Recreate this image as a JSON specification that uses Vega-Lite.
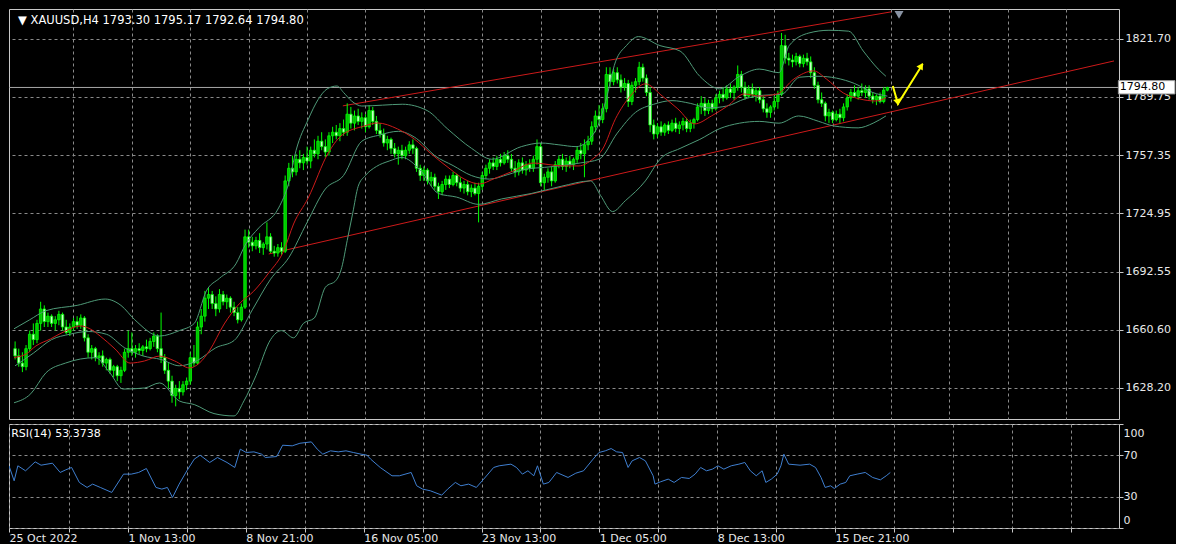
{
"$schema": "https://vega.github.io/schema/vega-lite/v6.json",
"background": "#000000",
"padding": {"left": 8, "top": 8, "right": 0, "bottom": 0},
"spacing": 3,
"config": {
  "font": "DejaVu Sans",
  "view": {"stroke": "#c8c8c8", "strokeWidth": 1},
  "axis": {"labelFont": "DejaVu Sans", "labelFontSize": 11, "labelColor": "#e8e8e8", "gridColor": "#8a8a8a", "gridDash": [3, 3], "gridWidth": 1, "gridOpacity": 1, "tickColor": "#c8c8c8", "tickSize": 4, "domain": false, "labelOverlap": false, "labelBound": false}
},
"datasets": {
  "candles": [
    {"i":1,"o":1650,"h":1654,"l":1644,"c":1646},{"i":2,"o":1646,"h":1650,"l":1640,"c":1642},{"i":3,"o":1642,"h":1648,"l":1637,"c":1640},{"i":4,"o":1640,"h":1652,"l":1638,"c":1650},{"i":5,"o":1650,"h":1660,"l":1648,"c":1658},
    {"i":6,"o":1658,"h":1664,"l":1652,"c":1655},{"i":7,"o":1655,"h":1666,"l":1653,"c":1664},{"i":8,"o":1664,"h":1676,"l":1660,"c":1672},{"i":9,"o":1672,"h":1674,"l":1662,"c":1665},{"i":10,"o":1665,"h":1670,"l":1662,"c":1668},
    {"i":11,"o":1668,"h":1669,"l":1662,"c":1664},{"i":12,"o":1664,"h":1668,"l":1660,"c":1666},{"i":13,"o":1666,"h":1671,"l":1663,"c":1669},{"i":14,"o":1669,"h":1670,"l":1660,"c":1662},{"i":15,"o":1662,"h":1666,"l":1658,"c":1659},
    {"i":16,"o":1659,"h":1664,"l":1657,"c":1662},{"i":17,"o":1662,"h":1667,"l":1660,"c":1665},{"i":18,"o":1665,"h":1668,"l":1661,"c":1663},{"i":19,"o":1663,"h":1669,"l":1661,"c":1667},{"i":20,"o":1667,"h":1668,"l":1654,"c":1656},
    {"i":21,"o":1656,"h":1658,"l":1645,"c":1648},{"i":22,"o":1648,"h":1652,"l":1644,"c":1650},{"i":23,"o":1650,"h":1651,"l":1643,"c":1645},{"i":24,"o":1645,"h":1648,"l":1641,"c":1646},{"i":25,"o":1646,"h":1649,"l":1640,"c":1642},
    {"i":26,"o":1642,"h":1645,"l":1638,"c":1644},{"i":27,"o":1644,"h":1645,"l":1636,"c":1638},{"i":28,"o":1638,"h":1641,"l":1634,"c":1640},{"i":29,"o":1640,"h":1641,"l":1632,"c":1635},{"i":30,"o":1635,"h":1640,"l":1631,"c":1638},
    {"i":31,"o":1638,"h":1650,"l":1637,"c":1648},{"i":32,"o":1648,"h":1660,"l":1645,"c":1650},{"i":33,"o":1650,"h":1659,"l":1646,"c":1648},{"i":34,"o":1648,"h":1652,"l":1645,"c":1650},{"i":35,"o":1650,"h":1653,"l":1647,"c":1649},
    {"i":36,"o":1649,"h":1652,"l":1646,"c":1651},{"i":37,"o":1651,"h":1655,"l":1648,"c":1650},{"i":38,"o":1650,"h":1656,"l":1649,"c":1654},{"i":39,"o":1654,"h":1659,"l":1651,"c":1657},{"i":40,"o":1657,"h":1658,"l":1648,"c":1650},
    {"i":41,"o":1650,"h":1670,"l":1642,"c":1645},{"i":42,"o":1645,"h":1647,"l":1636,"c":1638},{"i":43,"o":1638,"h":1642,"l":1628,"c":1632},{"i":44,"o":1632,"h":1635,"l":1620,"c":1624},{"i":45,"o":1624,"h":1630,"l":1618,"c":1628},
    {"i":46,"o":1628,"h":1632,"l":1622,"c":1626},{"i":47,"o":1626,"h":1632,"l":1624,"c":1630},{"i":48,"o":1630,"h":1634,"l":1627,"c":1632},{"i":49,"o":1632,"h":1648,"l":1630,"c":1645},{"i":50,"o":1645,"h":1652,"l":1640,"c":1642},
    {"i":51,"o":1642,"h":1665,"l":1641,"c":1662},{"i":52,"o":1662,"h":1672,"l":1658,"c":1668},{"i":53,"o":1668,"h":1682,"l":1665,"c":1678},{"i":54,"o":1678,"h":1684,"l":1672,"c":1680},{"i":55,"o":1680,"h":1682,"l":1672,"c":1675},
    {"i":56,"o":1675,"h":1679,"l":1668,"c":1672},{"i":57,"o":1672,"h":1683,"l":1670,"c":1680},{"i":58,"o":1680,"h":1682,"l":1674,"c":1676},{"i":59,"o":1676,"h":1680,"l":1672,"c":1678},{"i":60,"o":1678,"h":1679,"l":1670,"c":1673},
    {"i":61,"o":1673,"h":1676,"l":1668,"c":1670},{"i":62,"o":1670,"h":1673,"l":1664,"c":1666},{"i":63,"o":1666,"h":1675,"l":1665,"c":1673},{"i":64,"o":1673,"h":1716,"l":1672,"c":1712},{"i":65,"o":1712,"h":1716,"l":1706,"c":1709},
    {"i":66,"o":1709,"h":1712,"l":1704,"c":1707},{"i":67,"o":1707,"h":1712,"l":1705,"c":1710},{"i":68,"o":1710,"h":1714,"l":1703,"c":1706},{"i":69,"o":1706,"h":1709,"l":1702,"c":1708},{"i":70,"o":1708,"h":1720,"l":1705,"c":1712},
    {"i":71,"o":1712,"h":1714,"l":1703,"c":1704},{"i":72,"o":1704,"h":1707,"l":1701,"c":1703},{"i":73,"o":1703,"h":1708,"l":1701,"c":1706},{"i":74,"o":1706,"h":1709,"l":1702,"c":1704},{"i":75,"o":1704,"h":1746,"l":1703,"c":1743},
    {"i":76,"o":1743,"h":1753,"l":1740,"c":1750},{"i":77,"o":1750,"h":1757,"l":1745,"c":1748},{"i":78,"o":1748,"h":1758,"l":1746,"c":1755},{"i":79,"o":1755,"h":1760,"l":1750,"c":1753},{"i":80,"o":1753,"h":1758,"l":1749,"c":1756},
    {"i":81,"o":1756,"h":1762,"l":1752,"c":1754},{"i":82,"o":1754,"h":1762,"l":1750,"c":1760},{"i":83,"o":1760,"h":1766,"l":1756,"c":1758},{"i":84,"o":1758,"h":1768,"l":1755,"c":1765},{"i":85,"o":1765,"h":1770,"l":1760,"c":1762},
    {"i":86,"o":1762,"h":1766,"l":1756,"c":1759},{"i":87,"o":1759,"h":1770,"l":1757,"c":1768},{"i":88,"o":1768,"h":1773,"l":1764,"c":1770},{"i":89,"o":1770,"h":1774,"l":1766,"c":1768},{"i":90,"o":1768,"h":1775,"l":1765,"c":1772},
    {"i":91,"o":1772,"h":1777,"l":1768,"c":1770},{"i":92,"o":1770,"h":1786,"l":1768,"c":1780},{"i":93,"o":1780,"h":1784,"l":1772,"c":1775},{"i":94,"o":1775,"h":1782,"l":1771,"c":1779},{"i":95,"o":1779,"h":1783,"l":1774,"c":1776},
    {"i":96,"o":1776,"h":1781,"l":1772,"c":1778},{"i":97,"o":1778,"h":1780,"l":1770,"c":1773},{"i":98,"o":1773,"h":1785,"l":1772,"c":1782},{"i":99,"o":1782,"h":1784,"l":1774,"c":1776},{"i":100,"o":1776,"h":1779,"l":1769,"c":1771},
    {"i":101,"o":1771,"h":1775,"l":1767,"c":1769},{"i":102,"o":1769,"h":1772,"l":1762,"c":1764},{"i":103,"o":1764,"h":1768,"l":1760,"c":1766},{"i":104,"o":1766,"h":1767,"l":1758,"c":1761},{"i":105,"o":1761,"h":1764,"l":1756,"c":1758},
    {"i":106,"o":1758,"h":1762,"l":1752,"c":1760},{"i":107,"o":1760,"h":1763,"l":1755,"c":1757},{"i":108,"o":1757,"h":1762,"l":1755,"c":1760},{"i":109,"o":1760,"h":1765,"l":1758,"c":1763},{"i":110,"o":1763,"h":1766,"l":1758,"c":1761},
    {"i":111,"o":1761,"h":1762,"l":1748,"c":1750},{"i":112,"o":1750,"h":1752,"l":1743,"c":1746},{"i":113,"o":1746,"h":1751,"l":1743,"c":1749},{"i":114,"o":1749,"h":1750,"l":1741,"c":1743},{"i":115,"o":1743,"h":1748,"l":1740,"c":1745},
    {"i":116,"o":1745,"h":1747,"l":1738,"c":1740},{"i":117,"o":1740,"h":1742,"l":1733,"c":1737},{"i":118,"o":1737,"h":1743,"l":1735,"c":1741},{"i":119,"o":1741,"h":1746,"l":1738,"c":1744},{"i":120,"o":1744,"h":1746,"l":1739,"c":1741},
    {"i":121,"o":1741,"h":1748,"l":1740,"c":1746},{"i":122,"o":1746,"h":1747,"l":1740,"c":1742},{"i":123,"o":1742,"h":1745,"l":1737,"c":1739},{"i":124,"o":1739,"h":1743,"l":1736,"c":1741},{"i":125,"o":1741,"h":1743,"l":1735,"c":1737},
    {"i":126,"o":1737,"h":1741,"l":1734,"c":1739},{"i":127,"o":1739,"h":1742,"l":1735,"c":1736},{"i":128,"o":1736,"h":1742,"l":1720,"c":1740},{"i":129,"o":1740,"h":1748,"l":1738,"c":1746},{"i":130,"o":1746,"h":1752,"l":1744,"c":1750},
    {"i":131,"o":1750,"h":1755,"l":1747,"c":1753},{"i":132,"o":1753,"h":1756,"l":1749,"c":1751},{"i":133,"o":1751,"h":1757,"l":1749,"c":1755},{"i":134,"o":1755,"h":1758,"l":1751,"c":1753},{"i":135,"o":1753,"h":1759,"l":1752,"c":1757},
    {"i":136,"o":1757,"h":1760,"l":1753,"c":1755},{"i":137,"o":1755,"h":1758,"l":1748,"c":1750},{"i":138,"o":1750,"h":1754,"l":1745,"c":1748},{"i":139,"o":1748,"h":1755,"l":1746,"c":1753},{"i":140,"o":1753,"h":1756,"l":1747,"c":1749},
    {"i":141,"o":1749,"h":1754,"l":1746,"c":1752},{"i":142,"o":1752,"h":1755,"l":1748,"c":1750},{"i":143,"o":1750,"h":1757,"l":1748,"c":1755},{"i":144,"o":1755,"h":1766,"l":1752,"c":1762},{"i":145,"o":1762,"h":1764,"l":1740,"c":1742},
    {"i":146,"o":1742,"h":1747,"l":1738,"c":1745},{"i":147,"o":1745,"h":1750,"l":1742,"c":1748},{"i":148,"o":1748,"h":1751,"l":1740,"c":1743},{"i":149,"o":1743,"h":1754,"l":1742,"c":1752},{"i":150,"o":1752,"h":1757,"l":1750,"c":1755},
    {"i":151,"o":1755,"h":1758,"l":1749,"c":1751},{"i":152,"o":1751,"h":1756,"l":1748,"c":1754},{"i":153,"o":1754,"h":1757,"l":1750,"c":1752},{"i":154,"o":1752,"h":1756,"l":1749,"c":1755},{"i":155,"o":1755,"h":1762,"l":1753,"c":1760},
    {"i":156,"o":1760,"h":1764,"l":1755,"c":1758},{"i":157,"o":1758,"h":1766,"l":1745,"c":1763},{"i":158,"o":1763,"h":1768,"l":1760,"c":1765},{"i":159,"o":1765,"h":1776,"l":1763,"c":1773},{"i":160,"o":1773,"h":1782,"l":1770,"c":1779},
    {"i":161,"o":1779,"h":1785,"l":1774,"c":1777},{"i":162,"o":1777,"h":1786,"l":1775,"c":1783},{"i":163,"o":1783,"h":1806,"l":1781,"c":1802},{"i":164,"o":1802,"h":1806,"l":1795,"c":1798},{"i":165,"o":1798,"h":1805,"l":1796,"c":1803},
    {"i":166,"o":1803,"h":1806,"l":1797,"c":1799},{"i":167,"o":1799,"h":1802,"l":1792,"c":1795},{"i":168,"o":1795,"h":1800,"l":1793,"c":1797},{"i":169,"o":1797,"h":1799,"l":1784,"c":1787},{"i":170,"o":1787,"h":1798,"l":1785,"c":1796},
    {"i":171,"o":1796,"h":1800,"l":1792,"c":1798},{"i":172,"o":1798,"h":1809,"l":1796,"c":1806},{"i":173,"o":1806,"h":1808,"l":1798,"c":1800},{"i":174,"o":1800,"h":1802,"l":1790,"c":1792},{"i":175,"o":1792,"h":1795,"l":1770,"c":1774},
    {"i":176,"o":1774,"h":1777,"l":1766,"c":1769},{"i":177,"o":1769,"h":1775,"l":1767,"c":1773},{"i":178,"o":1773,"h":1776,"l":1768,"c":1770},{"i":179,"o":1770,"h":1775,"l":1768,"c":1774},{"i":180,"o":1774,"h":1776,"l":1769,"c":1771},
    {"i":181,"o":1771,"h":1777,"l":1770,"c":1775},{"i":182,"o":1775,"h":1778,"l":1770,"c":1772},{"i":183,"o":1772,"h":1776,"l":1769,"c":1774},{"i":184,"o":1774,"h":1778,"l":1771,"c":1776},{"i":185,"o":1776,"h":1778,"l":1770,"c":1772},
    {"i":186,"o":1772,"h":1777,"l":1770,"c":1775},{"i":187,"o":1775,"h":1778,"l":1772,"c":1777},{"i":188,"o":1777,"h":1786,"l":1776,"c":1784},{"i":189,"o":1784,"h":1790,"l":1780,"c":1786},{"i":190,"o":1786,"h":1789,"l":1779,"c":1782},
    {"i":191,"o":1782,"h":1788,"l":1780,"c":1786},{"i":192,"o":1786,"h":1788,"l":1781,"c":1783},{"i":193,"o":1783,"h":1791,"l":1782,"c":1789},{"i":194,"o":1789,"h":1793,"l":1786,"c":1791},{"i":195,"o":1791,"h":1795,"l":1787,"c":1789},
    {"i":196,"o":1789,"h":1796,"l":1788,"c":1794},{"i":197,"o":1794,"h":1797,"l":1789,"c":1792},{"i":198,"o":1792,"h":1796,"l":1788,"c":1795},{"i":199,"o":1795,"h":1807,"l":1793,"c":1802},{"i":200,"o":1802,"h":1804,"l":1792,"c":1795},
    {"i":201,"o":1795,"h":1798,"l":1788,"c":1790},{"i":202,"o":1790,"h":1796,"l":1789,"c":1794},{"i":203,"o":1794,"h":1797,"l":1789,"c":1791},{"i":204,"o":1791,"h":1795,"l":1787,"c":1793},{"i":205,"o":1793,"h":1795,"l":1786,"c":1788},
    {"i":206,"o":1788,"h":1790,"l":1781,"c":1783},{"i":207,"o":1783,"h":1786,"l":1778,"c":1781},{"i":208,"o":1781,"h":1785,"l":1778,"c":1784},{"i":209,"o":1784,"h":1790,"l":1782,"c":1787},{"i":210,"o":1787,"h":1793,"l":1783,"c":1791},
    {"i":211,"o":1791,"h":1825,"l":1790,"c":1818},{"i":212,"o":1818,"h":1824,"l":1808,"c":1811},{"i":213,"o":1811,"h":1814,"l":1807,"c":1810},{"i":214,"o":1810,"h":1813,"l":1806,"c":1809},{"i":215,"o":1809,"h":1814,"l":1807,"c":1812},
    {"i":216,"o":1812,"h":1813,"l":1806,"c":1808},{"i":217,"o":1808,"h":1813,"l":1806,"c":1811},{"i":218,"o":1811,"h":1814,"l":1807,"c":1809},{"i":219,"o":1809,"h":1812,"l":1800,"c":1803},{"i":220,"o":1803,"h":1806,"l":1794,"c":1796},
    {"i":221,"o":1796,"h":1798,"l":1786,"c":1788},{"i":222,"o":1788,"h":1792,"l":1784,"c":1786},{"i":223,"o":1786,"h":1787,"l":1776,"c":1779},{"i":224,"o":1779,"h":1783,"l":1775,"c":1781},{"i":225,"o":1781,"h":1782,"l":1775,"c":1777},
    {"i":226,"o":1777,"h":1782,"l":1776,"c":1780},{"i":227,"o":1780,"h":1783,"l":1775,"c":1778},{"i":228,"o":1778,"h":1786,"l":1776,"c":1784},{"i":229,"o":1784,"h":1791,"l":1782,"c":1789},{"i":230,"o":1789,"h":1794,"l":1787,"c":1792},
    {"i":231,"o":1792,"h":1796,"l":1789,"c":1790},{"i":232,"o":1790,"h":1795,"l":1788,"c":1793},{"i":233,"o":1793,"h":1797,"l":1790,"c":1792},{"i":234,"o":1792,"h":1796,"l":1789,"c":1794},{"i":235,"o":1794,"h":1796,"l":1788,"c":1790},
    {"i":236,"o":1790,"h":1792,"l":1786,"c":1788},{"i":237,"o":1788,"h":1791,"l":1785,"c":1790},{"i":238,"o":1790,"h":1792,"l":1786,"c":1787},{"i":239,"o":1787,"h":1795,"l":1786,"c":1793.3},{"i":240,"o":1793.3,"h":1795.17,"l":1792.64,"c":1794.8}
  ],
  "lines": [
    {"b":"u","i":0.7,"p":1661},{"b":"u","i":5,"p":1666},{"b":"u","i":9.4,"p":1671},{"b":"u","i":18,"p":1674},{"b":"u","i":25.7,"p":1677.5},{"b":"u","i":30,"p":1674},{"b":"u","i":33.8,"p":1666},{"b":"u","i":40.6,"p":1657},{"b":"u","i":46,"p":1660},{"b":"u","i":50.1,"p":1664},{"b":"u","i":53.4,"p":1682},{"b":"u","i":57,"p":1689},{"b":"u","i":61.5,"p":1697},{"b":"u","i":64.2,"p":1708},{"b":"u","i":67.8,"p":1717},{"b":"u","i":73.2,"p":1728},{"b":"u","i":76,"p":1742},{"b":"u","i":78,"p":1760},{"b":"u","i":81.3,"p":1777},{"b":"u","i":84,"p":1788},{"b":"u","i":86.5,"p":1794},{"b":"u","i":89.2,"p":1795.6},{"b":"u","i":91,"p":1792},{"b":"u","i":93.2,"p":1787.3},{"b":"u","i":96,"p":1784.5},{"b":"u","i":101.7,"p":1785},{"b":"u","i":107.1,"p":1785.5},{"b":"u","i":113.9,"p":1782},{"b":"u","i":119.4,"p":1772},{"b":"u","i":126.1,"p":1761},{"b":"u","i":131.6,"p":1755},{"b":"u","i":139.7,"p":1762},{"b":"u","i":145.1,"p":1764},{"b":"u","i":150,"p":1763},{"b":"u","i":154.7,"p":1762},{"b":"u","i":160.1,"p":1771},{"b":"u","i":162.8,"p":1787},{"b":"u","i":165.5,"p":1809},{"b":"u","i":168.5,"p":1818},{"b":"u","i":171.8,"p":1823},{"b":"u","i":177.7,"p":1818},{"b":"u","i":183.2,"p":1815},{"b":"u","i":188.6,"p":1801},{"b":"u","i":194.1,"p":1794},{"b":"u","i":199.5,"p":1801},{"b":"u","i":204.9,"p":1805},{"b":"u","i":210.3,"p":1803},{"b":"u","i":213.1,"p":1818},{"b":"u","i":218.5,"p":1825},{"b":"u","i":224,"p":1826.5},{"b":"u","i":229.4,"p":1826},{"b":"u","i":233.4,"p":1815},{"b":"u","i":237.5,"p":1805},{"b":"u","i":239.6,"p":1801},
    {"b":"l","i":0.7,"p":1620},{"b":"l","i":5.3,"p":1625},{"b":"l","i":9.4,"p":1636.5},{"b":"l","i":14.8,"p":1642},{"b":"l","i":23,"p":1645},{"b":"l","i":27,"p":1636.5},{"b":"l","i":30.6,"p":1627.6},{"b":"l","i":36.5,"p":1628.2},{"b":"l","i":40.6,"p":1631},{"b":"l","i":46,"p":1621},{"b":"l","i":50.1,"p":1619},{"b":"l","i":55.5,"p":1614},{"b":"l","i":61,"p":1612.7},{"b":"l","i":63.7,"p":1621},{"b":"l","i":67,"p":1635},{"b":"l","i":71,"p":1655},{"b":"l","i":74,"p":1660},{"b":"l","i":77.3,"p":1656},{"b":"l","i":80,"p":1664},{"b":"l","i":83,"p":1667},{"b":"l","i":86,"p":1684},{"b":"l","i":89,"p":1688},{"b":"l","i":90.5,"p":1695},{"b":"l","i":92,"p":1710},{"b":"l","i":93.5,"p":1725},{"b":"l","i":95,"p":1740},{"b":"l","i":97,"p":1746},{"b":"l","i":100,"p":1751},{"b":"l","i":103.5,"p":1754},{"b":"l","i":107,"p":1756},{"b":"l","i":112,"p":1749},{"b":"l","i":117,"p":1736},{"b":"l","i":122,"p":1734},{"b":"l","i":128,"p":1730},{"b":"l","i":134.3,"p":1733},{"b":"l","i":142.4,"p":1736},{"b":"l","i":150.6,"p":1740},{"b":"l","i":158.7,"p":1743},{"b":"l","i":161.4,"p":1735},{"b":"l","i":164.7,"p":1726},{"b":"l","i":168.2,"p":1732},{"b":"l","i":173.7,"p":1743},{"b":"l","i":177.7,"p":1755},{"b":"l","i":183.2,"p":1761},{"b":"l","i":188.6,"p":1766},{"b":"l","i":194.1,"p":1772},{"b":"l","i":199.5,"p":1775},{"b":"l","i":204.9,"p":1776},{"b":"l","i":210.3,"p":1775},{"b":"l","i":215.7,"p":1779},{"b":"l","i":221.2,"p":1776},{"b":"l","i":225.2,"p":1773.5},{"b":"l","i":232,"p":1772.4},{"b":"l","i":236.1,"p":1775},{"b":"l","i":239.6,"p":1779},
    {"b":"m","i":1,"p":1640.5},{"b":"m","i":6,"p":1647.5},{"b":"m","i":11,"p":1655},{"b":"m","i":16,"p":1658},{"b":"m","i":21,"p":1659.5},{"b":"m","i":26,"p":1658},{"b":"m","i":31,"p":1650.5},{"b":"m","i":36,"p":1646},{"b":"m","i":41,"p":1644},{"b":"m","i":46,"p":1640.5},{"b":"m","i":51,"p":1643.5},{"b":"m","i":56,"p":1650.5},{"b":"m","i":61,"p":1654.5},{"b":"m","i":66,"p":1671.5},{"b":"m","i":71,"p":1688.5},{"b":"m","i":76,"p":1700.5},{"b":"m","i":81,"p":1720},{"b":"m","i":86,"p":1738.5},{"b":"m","i":91,"p":1746},{"b":"m","i":96,"p":1765},{"b":"m","i":101,"p":1768.5},{"b":"m","i":106,"p":1770.5},{"b":"m","i":111,"p":1766.5},{"b":"m","i":116,"p":1757},{"b":"m","i":121,"p":1751.5},{"b":"m","i":126,"p":1746},{"b":"m","i":131,"p":1744},{"b":"m","i":136,"p":1746.5},{"b":"m","i":141,"p":1749.5},{"b":"m","i":146,"p":1750.5},{"b":"m","i":151,"p":1751.5},{"b":"m","i":156,"p":1753},{"b":"m","i":161,"p":1755},{"b":"m","i":166,"p":1769.5},{"b":"m","i":171,"p":1781},{"b":"m","i":176,"p":1785.5},{"b":"m","i":181,"p":1787.5},{"b":"m","i":186,"p":1786},{"b":"m","i":191,"p":1783.5},{"b":"m","i":196,"p":1784.5},{"b":"m","i":201,"p":1788.5},{"b":"m","i":206,"p":1790.5},{"b":"m","i":211,"p":1791},{"b":"m","i":216,"p":1800.5},{"b":"m","i":221,"p":1801},{"b":"m","i":226,"p":1800},{"b":"m","i":231,"p":1797},{"b":"m","i":236,"p":1792},{"b":"m","i":240,"p":1790},
    {"b":"ma","i":0.7,"p":1645.1},{"b":"ma","i":4,"p":1647},{"b":"ma","i":6.7,"p":1651.5},{"b":"ma","i":10.7,"p":1655.4},{"b":"ma","i":14.8,"p":1659.8},{"b":"ma","i":18.9,"p":1662.6},{"b":"ma","i":21.6,"p":1660.9},{"b":"ma","i":24.3,"p":1657},{"b":"ma","i":28.4,"p":1649.8},{"b":"ma","i":32.5,"p":1642},{"b":"ma","i":36.5,"p":1643.2},{"b":"ma","i":40.6,"p":1645.9},{"b":"ma","i":44.7,"p":1643.2},{"b":"ma","i":48.8,"p":1639.3},{"b":"ma","i":51.5,"p":1642},{"b":"ma","i":54.2,"p":1648.7},{"b":"ma","i":58.3,"p":1663.7},{"b":"ma","i":62.4,"p":1674.8},{"b":"ma","i":66.4,"p":1681.9},{"b":"ma","i":70.5,"p":1692},{"b":"ma","i":74.6,"p":1704.2},{"b":"ma","i":77.3,"p":1719.1},{"b":"ma","i":81.3,"p":1733.5},{"b":"ma","i":86.8,"p":1758.5},{"b":"ma","i":90.3,"p":1767.9},{"b":"ma","i":96.8,"p":1773.5},{"b":"ma","i":100.3,"p":1775.1},{"b":"ma","i":105.8,"p":1771.8},{"b":"ma","i":110.4,"p":1766.2},{"b":"ma","i":114.7,"p":1758.5},{"b":"ma","i":120.2,"p":1749.6},{"b":"ma","i":124,"p":1744.1},{"b":"ma","i":128.3,"p":1741.3},{"b":"ma","i":132.1,"p":1744.1},{"b":"ma","i":137.5,"p":1748.5},{"b":"ma","i":143,"p":1752.9},{"b":"ma","i":151.1,"p":1751.3},{"b":"ma","i":155.5,"p":1751.3},{"b":"ma","i":159.3,"p":1755.2},{"b":"ma","i":162,"p":1760.7},{"b":"ma","i":165.5,"p":1777.4},{"b":"ma","i":169.6,"p":1790.1},{"b":"ma","i":173.7,"p":1796.8},{"b":"ma","i":178.3,"p":1790.1},{"b":"ma","i":182.6,"p":1782.9},{"b":"ma","i":187.2,"p":1774.6},{"b":"ma","i":191.8,"p":1779},{"b":"ma","i":196.2,"p":1784.5},{"b":"ma","i":200.8,"p":1791.2},{"b":"ma","i":205,"p":1790},{"b":"ma","i":209.8,"p":1791.2},{"b":"ma","i":214.4,"p":1799.5},{"b":"ma","i":219.8,"p":1804},{"b":"ma","i":223.3,"p":1799.5},{"b":"ma","i":227.9,"p":1791.8},{"b":"ma","i":232.5,"p":1788.4},{"b":"ma","i":236.8,"p":1787.3},{"b":"ma","i":239.6,"p":1789}
  ],
  "chan": [
    {"k":"a","i":90.8,"p":1784.6},{"k":"a","i":241,"p":1836.7},
    {"k":"b","i":70.5,"p":1702.5},{"k":"b","i":302.1,"p":1809.5}
  ],
  "rsi": [
    {"i":0.7,"r":59.8},{"i":2.1,"r":45.4},{"i":3.1,"r":59.8},{"i":5.2,"r":55},{"i":7.8,"r":63.6},{"i":9.4,"r":60.4},{"i":12.5,"r":62.3},{"i":14.6,"r":53.4},{"i":16.1,"r":55.9},{"i":17.7,"r":58.2},
    {"i":19.8,"r":43.8},{"i":21.9,"r":39},{"i":23.4,"r":42.2},{"i":25.5,"r":39},{"i":28.6,"r":34.2},{"i":31.8,"r":51.8},{"i":33.9,"r":51.8},{"i":35.9,"r":53.4},{"i":38,"r":57.2},{"i":40.6,"r":39},
    {"i":42.2,"r":37.4},{"i":43.7,"r":39},{"i":45.1,"r":29.4},{"i":46.9,"r":42.2},{"i":49,"r":55},{"i":51,"r":66.2},{"i":52.6,"r":70},{"i":55.2,"r":63},{"i":57.3,"r":67.8},{"i":59.9,"r":63},
    {"i":62,"r":58.2},{"i":63.5,"r":75.8},{"i":65.1,"r":72.6},{"i":67.2,"r":73.2},{"i":69.3,"r":71},{"i":70.3,"r":67.8},{"i":73.4,"r":68.7},{"i":75,"r":79.6},{"i":77.6,"r":79},{"i":79.7,"r":81.5},
    {"i":82.8,"r":82.8},{"i":84.4,"r":75.8},{"i":85.9,"r":71},{"i":88,"r":74.2},{"i":90.1,"r":73.2},{"i":92.2,"r":74.2},{"i":94.2,"r":72.6},{"i":96.3,"r":71},{"i":97.9,"r":70},{"i":98.9,"r":66.2},
    {"i":101.5,"r":58.2},{"i":104.7,"r":50.2},{"i":106.7,"r":50.2},{"i":109.9,"r":53.4},{"i":111.4,"r":40.6},{"i":113,"r":37.4},{"i":115.1,"r":35.8},{"i":118.2,"r":31.6},{"i":119.8,"r":37.4},{"i":121.9,"r":43.8},
    {"i":123.4,"r":40.6},{"i":125.5,"r":42.2},{"i":127.6,"r":39},{"i":129.6,"r":47},{"i":132.3,"r":58.2},{"i":133.8,"r":59.8},{"i":137,"r":61.4},{"i":138.5,"r":58.2},{"i":140.1,"r":51.8},{"i":141.6,"r":55},
    {"i":143.2,"r":50.2},{"i":144.2,"r":59.8},{"i":145.8,"r":42.2},{"i":147.3,"r":43.8},{"i":149.4,"r":53.4},{"i":152.5,"r":48.6},{"i":154.6,"r":52.7},{"i":156.7,"r":55},{"i":159.3,"r":66.2},{"i":160.9,"r":72.6},
    {"i":162.6,"r":74.2},{"i":164.2,"r":76.4},{"i":165.7,"r":73.2},{"i":167.3,"r":72.6},{"i":168.8,"r":58.2},{"i":169.9,"r":64.6},{"i":171.9,"r":67.8},{"i":173.5,"r":64.6},{"i":175.6,"r":50.2},{"i":176.1,"r":42.2},
    {"i":177.6,"r":44.4},{"i":179.7,"r":47},{"i":181.3,"r":43.8},{"i":183.3,"r":48.6},{"i":185.4,"r":47.6},{"i":187,"r":51.8},{"i":188.5,"r":58.2},{"i":190.1,"r":55},{"i":191.7,"r":56.6},{"i":193.2,"r":59.8},
    {"i":194.8,"r":56.6},{"i":196.8,"r":59.8},{"i":198.9,"r":61.4},{"i":200.5,"r":63},{"i":202,"r":55},{"i":203.6,"r":50.2},{"i":205.2,"r":55},{"i":206.2,"r":43.8},{"i":207.7,"r":47},{"i":209.3,"r":51.8},
    {"i":210.3,"r":59.8},{"i":211.1,"r":71},{"i":212.4,"r":61.4},{"i":215.5,"r":60.4},{"i":218.1,"r":61.4},{"i":219.7,"r":58.2},{"i":221.2,"r":48.6},{"i":222.3,"r":39},{"i":223.8,"r":40.6},{"i":224.8,"r":38},
    {"i":226.4,"r":42.2},{"i":227.9,"r":43.8},{"i":229,"r":50.2},{"i":231,"r":51.8},{"i":233.2,"r":53.4},{"i":235.2,"r":48.6},{"i":237.3,"r":46.3},{"i":238.9,"r":50.2},{"i":240,"r":53.4}
  ]
},
"vconcat": [
  {
    "width": 1110,
    "height": 410,
    "layer": [
      {
        "data": {"values": [{"p": 1794.8}]},
        "mark": {"type": "rule", "color": "#a8a8a8", "strokeWidth": 1},
        "encoding": {
          "y": {"field": "p", "type": "quantitative", "scale": {"domain": [1611.0, 1838.3], "nice": false, "zero": false},
                "axis": {"orient": "right", "values": [1628.2, 1660.6, 1692.55, 1724.95, 1757.35, 1789.75, 1821.7], "format": ".2f", "grid": true, "title": null, "labelPadding": 2}}
        }
      },
      {
        "data": {"name": "chan"},
        "mark": {"type": "line", "color": "#cc1a1a", "strokeWidth": 1, "clip": true},
        "encoding": {
          "x": {"field": "i", "type": "quantitative", "scale": {"domain": [0.7, 302.1], "nice": false, "zero": false},
                "axis": {"orient": "bottom", "values": [17, 33, 49, 65, 81, 97, 113, 129, 145, 161, 177, 193, 209, 225, 241, 257, 273, 289], "labels": false, "ticks": false, "grid": true, "title": null}},
          "y": {"field": "p", "type": "quantitative", "scale": {"domain": [1611.0, 1838.3], "nice": false, "zero": false},
                "axis": {"orient": "right", "values": [1628.2, 1660.6, 1692.55, 1724.95, 1757.35, 1789.75, 1821.7], "format": ".2f", "grid": true, "title": null, "labelPadding": 2}},
          "detail": {"field": "k"}
        }
      },
      {
        "data": {"name": "candles"},
        "mark": {"type": "rule", "color": "#00ff00", "strokeWidth": 1, "clip": true},
        "encoding": {
          "x": {"field": "i", "type": "quantitative", "scale": {"domain": [0.7, 302.1], "nice": false, "zero": false},
                "axis": {"orient": "bottom", "values": [17, 33, 49, 65, 81, 97, 113, 129, 145, 161, 177, 193, 209, 225, 241, 257, 273, 289], "labels": false, "ticks": false, "grid": true, "title": null}},
          "y": {"field": "l", "type": "quantitative", "scale": {"domain": [1611.0, 1838.3], "nice": false, "zero": false},
                "axis": {"orient": "right", "values": [1628.2, 1660.6, 1692.55, 1724.95, 1757.35, 1789.75, 1821.7], "format": ".2f", "grid": true, "title": null, "labelPadding": 2}},
          "y2": {"field": "h"}
        }
      },
      {
        "data": {"name": "candles"},
        "mark": {"type": "bar", "size": 2.5, "stroke": "#00ff00", "strokeWidth": 0.8, "clip": true},
        "encoding": {
          "x": {"field": "i", "type": "quantitative", "scale": {"domain": [0.7, 302.1], "nice": false, "zero": false},
                "axis": {"orient": "bottom", "values": [17, 33, 49, 65, 81, 97, 113, 129, 145, 161, 177, 193, 209, 225, 241, 257, 273, 289], "labels": false, "ticks": false, "grid": true, "title": null}},
          "y": {"field": "o", "type": "quantitative", "scale": {"domain": [1611.0, 1838.3], "nice": false, "zero": false},
                "axis": {"orient": "right", "values": [1628.2, 1660.6, 1692.55, 1724.95, 1757.35, 1789.75, 1821.7], "format": ".2f", "grid": true, "title": null, "labelPadding": 2}},
          "y2": {"field": "c"},
          "fill": {"condition": {"test": "datum.c >= datum.o", "value": "#00c400"}, "value": "#c8ffc8"}
        }
      },
      {
        "data": {"name": "lines"},
        "mark": {"type": "line", "strokeWidth": 1, "interpolate": "monotone", "clip": true},
        "encoding": {
          "x": {"field": "i", "type": "quantitative", "scale": {"domain": [0.7, 302.1], "nice": false, "zero": false},
                "axis": {"orient": "bottom", "values": [17, 33, 49, 65, 81, 97, 113, 129, 145, 161, 177, 193, 209, 225, 241, 257, 273, 289], "labels": false, "ticks": false, "grid": true, "title": null}},
          "y": {"field": "p", "type": "quantitative", "scale": {"domain": [1611.0, 1838.3], "nice": false, "zero": false},
                "axis": {"orient": "right", "values": [1628.2, 1660.6, 1692.55, 1724.95, 1757.35, 1789.75, 1821.7], "format": ".2f", "grid": true, "title": null, "labelPadding": 2}},
          "detail": {"field": "b"},
          "color": {"field": "b", "type": "nominal", "scale": {"domain": ["u", "m", "l", "ma"], "range": ["#4f9a78", "#4f9a78", "#4f9a78", "#cc1a1a"]}, "legend": null}
        }
      },
      {
        "data": {"values": [{"i": 241.5, "p": 1795.6, "o": 1}, {"i": 242.9, "p": 1785.7, "o": 2}, {"i": 249.7, "p": 1807.8, "o": 3}]},
        "mark": {"type": "line", "color": "#ffff00", "strokeWidth": 2},
        "encoding": {
          "x": {"field": "i", "type": "quantitative", "scale": {"domain": [0.7, 302.1], "nice": false, "zero": false},
                "axis": {"orient": "bottom", "values": [17, 33, 49, 65, 81, 97, 113, 129, 145, 161, 177, 193, 209, 225, 241, 257, 273, 289], "labels": false, "ticks": false, "grid": true, "title": null}},
          "y": {"field": "p", "type": "quantitative", "scale": {"domain": [1611.0, 1838.3], "nice": false, "zero": false},
                "axis": {"orient": "right", "values": [1628.2, 1660.6, 1692.55, 1724.95, 1757.35, 1789.75, 1821.7], "format": ".2f", "grid": true, "title": null, "labelPadding": 2}},
          "order": {"field": "o"}
        }
      },
      {
        "data": {"values": [{"i": 242.8, "p": 1786.6, "a": 165}, {"i": 249.3, "p": 1806.8, "a": 32}]},
        "mark": {"type": "point", "shape": "triangle-up", "filled": true, "color": "#ffff00", "opacity": 1, "size": 55},
        "encoding": {
          "x": {"field": "i", "type": "quantitative", "scale": {"domain": [0.7, 302.1], "nice": false, "zero": false},
                "axis": {"orient": "bottom", "values": [17, 33, 49, 65, 81, 97, 113, 129, 145, 161, 177, 193, 209, 225, 241, 257, 273, 289], "labels": false, "ticks": false, "grid": true, "title": null}},
          "y": {"field": "p", "type": "quantitative", "scale": {"domain": [1611.0, 1838.3], "nice": false, "zero": false},
                "axis": {"orient": "right", "values": [1628.2, 1660.6, 1692.55, 1724.95, 1757.35, 1789.75, 1821.7], "format": ".2f", "grid": true, "title": null, "labelPadding": 2}},
          "angle": {"field": "a", "type": "quantitative", "scale": null}
        }
      },
      {
        "data": {"values": [{"i": 243.2, "p": 1835.0}]},
        "mark": {"type": "point", "shape": "triangle-down", "filled": true, "color": "#8a94a4", "opacity": 1, "size": 80, "clip": true},
        "encoding": {
          "x": {"field": "i", "type": "quantitative", "scale": {"domain": [0.7, 302.1], "nice": false, "zero": false},
                "axis": {"orient": "bottom", "values": [17, 33, 49, 65, 81, 97, 113, 129, 145, 161, 177, 193, 209, 225, 241, 257, 273, 289], "labels": false, "ticks": false, "grid": true, "title": null}},
          "y": {"field": "p", "type": "quantitative", "scale": {"domain": [1611.0, 1838.3], "nice": false, "zero": false},
                "axis": {"orient": "right", "values": [1628.2, 1660.6, 1692.55, 1724.95, 1757.35, 1789.75, 1821.7], "format": ".2f", "grid": true, "title": null, "labelPadding": 2}}
        }
      },
      {
        "data": {"values": [{"i": 1.8, "p": 1831.7, "t": "▼  XAUUSD,H4  1793.30 1795.17 1792.64 1794.80"}]},
        "mark": {"type": "text", "align": "left", "baseline": "middle", "color": "#ffffff", "fontSize": 11.5, "font": "DejaVu Sans"},
        "encoding": {
          "x": {"field": "i", "type": "quantitative", "scale": {"domain": [0.7, 302.1], "nice": false, "zero": false},
                "axis": {"orient": "bottom", "values": [17, 33, 49, 65, 81, 97, 113, 129, 145, 161, 177, 193, 209, 225, 241, 257, 273, 289], "labels": false, "ticks": false, "grid": true, "title": null}},
          "y": {"field": "p", "type": "quantitative", "scale": {"domain": [1611.0, 1838.3], "nice": false, "zero": false},
                "axis": {"orient": "right", "values": [1628.2, 1660.6, 1692.55, 1724.95, 1757.35, 1789.75, 1821.7], "format": ".2f", "grid": true, "title": null, "labelPadding": 2}},
          "text": {"field": "t"}
        }
      },
      {
        "data": {"values": [{"i": 303.3, "i2": 318.8, "p": 1791.2, "p2": 1798.6}]},
        "mark": {"type": "rect", "fill": "#ffffff", "stroke": "#9a9a9a", "strokeWidth": 1},
        "encoding": {
          "x": {"field": "i", "type": "quantitative", "scale": {"domain": [0.7, 302.1], "nice": false, "zero": false},
                "axis": {"orient": "bottom", "values": [17, 33, 49, 65, 81, 97, 113, 129, 145, 161, 177, 193, 209, 225, 241, 257, 273, 289], "labels": false, "ticks": false, "grid": true, "title": null}},
          "x2": {"field": "i2"},
          "y": {"field": "p", "type": "quantitative", "scale": {"domain": [1611.0, 1838.3], "nice": false, "zero": false},
                "axis": {"orient": "right", "values": [1628.2, 1660.6, 1692.55, 1724.95, 1757.35, 1789.75, 1821.7], "format": ".2f", "grid": true, "title": null, "labelPadding": 2}},
          "y2": {"field": "p2"}
        }
      },
      {
        "data": {"values": [{"i": 303.7, "p": 1794.9, "t": "1794.80"}]},
        "mark": {"type": "text", "align": "left", "baseline": "middle", "color": "#000000", "fontSize": 11, "font": "DejaVu Sans"},
        "encoding": {
          "x": {"field": "i", "type": "quantitative", "scale": {"domain": [0.7, 302.1], "nice": false, "zero": false},
                "axis": {"orient": "bottom", "values": [17, 33, 49, 65, 81, 97, 113, 129, 145, 161, 177, 193, 209, 225, 241, 257, 273, 289], "labels": false, "ticks": false, "grid": true, "title": null}},
          "y": {"field": "p", "type": "quantitative", "scale": {"domain": [1611.0, 1838.3], "nice": false, "zero": false},
                "axis": {"orient": "right", "values": [1628.2, 1660.6, 1692.55, 1724.95, 1757.35, 1789.75, 1821.7], "format": ".2f", "grid": true, "title": null, "labelPadding": 2}},
          "text": {"field": "t"}
        }
      }
    ]
  },
  {
    "width": 1110,
    "height": 104,
    "layer": [
      {
        "data": {"name": "rsi"},
        "mark": {"type": "line", "color": "#3f7fd0", "strokeWidth": 1, "clip": true},
        "encoding": {
          "x": {"field": "i", "type": "quantitative", "scale": {"domain": [0.7, 302.1], "nice": false, "zero": false},
                "axis": {"orient": "bottom", "values": [0.7, 17, 33, 49, 65, 81, 97, 113, 129, 145, 161, 177, 193, 209, 225, 241, 257, 273, 289],
                         "labelExpr": "datum.value < 2 ? '25 Oct 2022' : datum.value == 33 ? '1 Nov 13:00' : datum.value == 65 ? '8 Nov 21:00' : datum.value == 97 ? '16 Nov 05:00' : datum.value == 129 ? '23 Nov 13:00' : datum.value == 161 ? '1 Dec 05:00' : datum.value == 193 ? '8 Dec 13:00' : datum.value == 225 ? '15 Dec 21:00' : ''",
                         "labelAlign": "left", "labelBaseline": "top", "labelPadding": 0, "labelFlush": false, "grid": true, "title": null}},
          "y": {"field": "r", "type": "quantitative", "scale": {"domain": [0, 100], "nice": false, "zero": false},
                "axis": {"orient": "right", "values": [0, 30, 70, 100], "grid": true, "labelFlush": true, "labelFlushOffset": -3, "labelPadding": 0, "title": null}}
        }
      },
      {
        "data": {"values": [{"i": 1.3, "r": 90.4, "t": "RSI(14) 53.3738"}]},
        "mark": {"type": "text", "align": "left", "baseline": "middle", "color": "#ffffff", "fontSize": 11, "font": "DejaVu Sans"},
        "encoding": {
          "x": {"field": "i", "type": "quantitative", "scale": {"domain": [0.7, 302.1], "nice": false, "zero": false},
                "axis": {"orient": "bottom", "values": [0.7, 17, 33, 49, 65, 81, 97, 113, 129, 145, 161, 177, 193, 209, 225, 241, 257, 273, 289],
                         "labelExpr": "datum.value < 2 ? '25 Oct 2022' : datum.value == 33 ? '1 Nov 13:00' : datum.value == 65 ? '8 Nov 21:00' : datum.value == 97 ? '16 Nov 05:00' : datum.value == 129 ? '23 Nov 13:00' : datum.value == 161 ? '1 Dec 05:00' : datum.value == 193 ? '8 Dec 13:00' : datum.value == 225 ? '15 Dec 21:00' : ''",
                         "labelAlign": "left", "labelBaseline": "top", "labelPadding": 0, "labelFlush": false, "grid": true, "title": null}},
          "y": {"field": "r", "type": "quantitative", "scale": {"domain": [0, 100], "nice": false, "zero": false},
                "axis": {"orient": "right", "values": [0, 30, 70, 100], "grid": true, "labelFlush": true, "labelFlushOffset": -3, "labelPadding": 0, "title": null}},
          "text": {"field": "t"}
        }
      }
    ]
  }
]
}
